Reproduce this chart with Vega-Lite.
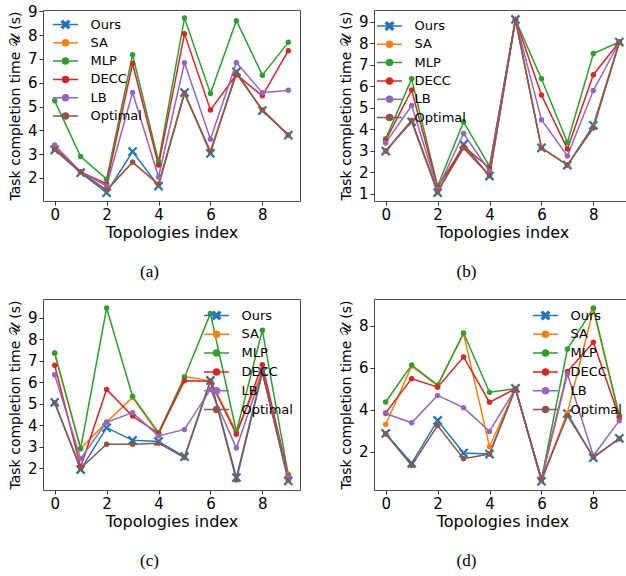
{
  "$schema": "https://vega.github.io/schema/vega-lite/v6.json",
  "padding": {"left": 7, "top": 3, "right": 0, "bottom": 0},
  "background": "white",
  "datasets": {
    "a": [
      {"s":"Ours","x":0,"y":3.18},{"s":"Ours","x":1,"y":2.22},{"s":"Ours","x":2,"y":1.38},{"s":"Ours","x":3,"y":3.11},{"s":"Ours","x":4,"y":1.66},{"s":"Ours","x":5,"y":5.59},{"s":"Ours","x":6,"y":3.03},{"s":"Ours","x":7,"y":6.46},{"s":"Ours","x":8,"y":4.83},{"s":"Ours","x":9,"y":3.8},
      {"s":"SA","x":0,"y":3.21},{"s":"SA","x":1,"y":2.25},{"s":"SA","x":2,"y":1.48},{"s":"SA","x":3,"y":2.66},{"s":"SA","x":4,"y":1.73},{"s":"SA","x":5,"y":5.55},{"s":"SA","x":6,"y":3.11},{"s":"SA","x":7,"y":6.39},{"s":"SA","x":8,"y":4.86},{"s":"SA","x":9,"y":3.8},
      {"s":"MLP","x":0,"y":5.24},{"s":"MLP","x":1,"y":2.9},{"s":"MLP","x":2,"y":1.95},{"s":"MLP","x":3,"y":7.18},{"s":"MLP","x":4,"y":2.69},{"s":"MLP","x":5,"y":8.72},{"s":"MLP","x":6,"y":5.55},{"s":"MLP","x":7,"y":8.61},{"s":"MLP","x":8,"y":6.32},{"s":"MLP","x":9,"y":7.7},
      {"s":"DECC","x":0,"y":3.27},{"s":"DECC","x":1,"y":2.25},{"s":"DECC","x":2,"y":1.76},{"s":"DECC","x":3,"y":6.81},{"s":"DECC","x":4,"y":2.54},{"s":"DECC","x":5,"y":8.06},{"s":"DECC","x":6,"y":4.86},{"s":"DECC","x":7,"y":6.34},{"s":"DECC","x":8,"y":5.45},{"s":"DECC","x":9,"y":7.35},
      {"s":"LB","x":0,"y":3.38},{"s":"LB","x":1,"y":2.26},{"s":"LB","x":2,"y":1.66},{"s":"LB","x":3,"y":5.59},{"s":"LB","x":4,"y":2.04},{"s":"LB","x":5,"y":6.84},{"s":"LB","x":6,"y":3.63},{"s":"LB","x":7,"y":6.85},{"s":"LB","x":8,"y":5.58},{"s":"LB","x":9,"y":5.69},
      {"s":"Optimal","x":0,"y":3.21},{"s":"Optimal","x":1,"y":2.25},{"s":"Optimal","x":2,"y":1.48},{"s":"Optimal","x":3,"y":2.66},{"s":"Optimal","x":4,"y":1.73},{"s":"Optimal","x":5,"y":5.55},{"s":"Optimal","x":6,"y":3.11},{"s":"Optimal","x":7,"y":6.39},{"s":"Optimal","x":8,"y":4.86},{"s":"Optimal","x":9,"y":3.8}
    ],
    "b": [
      {"s":"Ours","x":0,"y":2.98},{"s":"Ours","x":1,"y":4.34},{"s":"Ours","x":2,"y":1.05},{"s":"Ours","x":3,"y":3.29},{"s":"Ours","x":4,"y":1.82},{"s":"Ours","x":5,"y":9.1},{"s":"Ours","x":6,"y":3.13},{"s":"Ours","x":7,"y":2.33},{"s":"Ours","x":8,"y":4.18},{"s":"Ours","x":9,"y":8.05},
      {"s":"SA","x":0,"y":2.98},{"s":"SA","x":1,"y":4.4},{"s":"SA","x":2,"y":1.1},{"s":"SA","x":3,"y":3.13},{"s":"SA","x":4,"y":1.85},{"s":"SA","x":5,"y":9.08},{"s":"SA","x":6,"y":3.13},{"s":"SA","x":7,"y":2.33},{"s":"SA","x":8,"y":4.06},{"s":"SA","x":9,"y":8.03},
      {"s":"MLP","x":0,"y":3.55},{"s":"MLP","x":1,"y":6.34},{"s":"MLP","x":2,"y":1.35},{"s":"MLP","x":3,"y":4.34},{"s":"MLP","x":4,"y":2.27},{"s":"MLP","x":5,"y":9.1},{"s":"MLP","x":6,"y":6.34},{"s":"MLP","x":7,"y":3.38},{"s":"MLP","x":8,"y":7.52},{"s":"MLP","x":9,"y":8.05},
      {"s":"DECC","x":0,"y":3.47},{"s":"DECC","x":1,"y":5.82},{"s":"DECC","x":2,"y":1.3},{"s":"DECC","x":3,"y":3.2},{"s":"DECC","x":4,"y":2.2},{"s":"DECC","x":5,"y":9.1},{"s":"DECC","x":6,"y":5.59},{"s":"DECC","x":7,"y":3.08},{"s":"DECC","x":8,"y":6.53},{"s":"DECC","x":9,"y":8.05},
      {"s":"LB","x":0,"y":3.36},{"s":"LB","x":1,"y":5.1},{"s":"LB","x":2,"y":1.22},{"s":"LB","x":3,"y":3.8},{"s":"LB","x":4,"y":2.05},{"s":"LB","x":5,"y":9.1},{"s":"LB","x":6,"y":4.44},{"s":"LB","x":7,"y":2.75},{"s":"LB","x":8,"y":5.8},{"s":"LB","x":9,"y":8.05},
      {"s":"Optimal","x":0,"y":2.98},{"s":"Optimal","x":1,"y":4.4},{"s":"Optimal","x":2,"y":1.1},{"s":"Optimal","x":3,"y":3.13},{"s":"Optimal","x":4,"y":1.85},{"s":"Optimal","x":5,"y":9.08},{"s":"Optimal","x":6,"y":3.13},{"s":"Optimal","x":7,"y":2.33},{"s":"Optimal","x":8,"y":4.06},{"s":"Optimal","x":9,"y":8.03}
    ],
    "c": [
      {"s":"Ours","x":0,"y":5.07},{"s":"Ours","x":1,"y":1.94},{"s":"Ours","x":2,"y":3.89},{"s":"Ours","x":3,"y":3.3},{"s":"Ours","x":4,"y":3.25},{"s":"Ours","x":5,"y":2.54},{"s":"Ours","x":6,"y":6.09},{"s":"Ours","x":7,"y":1.57},{"s":"Ours","x":8,"y":6.49},{"s":"Ours","x":9,"y":1.41},
      {"s":"SA","x":0,"y":7.35},{"s":"SA","x":1,"y":2.92},{"s":"SA","x":2,"y":4.15},{"s":"SA","x":3,"y":5.3},{"s":"SA","x":4,"y":3.6},{"s":"SA","x":5,"y":6.27},{"s":"SA","x":6,"y":6.07},{"s":"SA","x":7,"y":3.7},{"s":"SA","x":8,"y":6.5},{"s":"SA","x":9,"y":1.72},
      {"s":"MLP","x":0,"y":7.37},{"s":"MLP","x":1,"y":2.91},{"s":"MLP","x":2,"y":9.46},{"s":"MLP","x":3,"y":5.35},{"s":"MLP","x":4,"y":3.66},{"s":"MLP","x":5,"y":6.24},{"s":"MLP","x":6,"y":9.2},{"s":"MLP","x":7,"y":3.7},{"s":"MLP","x":8,"y":8.43},{"s":"MLP","x":9,"y":1.68},
      {"s":"DECC","x":0,"y":6.8},{"s":"DECC","x":1,"y":2.06},{"s":"DECC","x":2,"y":5.67},{"s":"DECC","x":3,"y":4.43},{"s":"DECC","x":4,"y":3.62},{"s":"DECC","x":5,"y":6.07},{"s":"DECC","x":6,"y":6.05},{"s":"DECC","x":7,"y":3.58},{"s":"DECC","x":8,"y":6.82},{"s":"DECC","x":9,"y":1.65},
      {"s":"LB","x":0,"y":6.35},{"s":"LB","x":1,"y":2.45},{"s":"LB","x":2,"y":4.14},{"s":"LB","x":3,"y":4.59},{"s":"LB","x":4,"y":3.51},{"s":"LB","x":5,"y":3.81},{"s":"LB","x":6,"y":5.67},{"s":"LB","x":7,"y":2.94},{"s":"LB","x":8,"y":6.5},{"s":"LB","x":9,"y":1.62},
      {"s":"Optimal","x":0,"y":5.04},{"s":"Optimal","x":1,"y":2.0},{"s":"Optimal","x":2,"y":3.12},{"s":"Optimal","x":3,"y":3.12},{"s":"Optimal","x":4,"y":3.17},{"s":"Optimal","x":5,"y":2.5},{"s":"Optimal","x":6,"y":6.05},{"s":"Optimal","x":7,"y":1.46},{"s":"Optimal","x":8,"y":6.45},{"s":"Optimal","x":9,"y":1.45}
    ],
    "d": [
      {"s":"Ours","x":0,"y":2.87},{"s":"Ours","x":1,"y":1.45},{"s":"Ours","x":2,"y":3.49},{"s":"Ours","x":3,"y":1.94},{"s":"Ours","x":4,"y":1.89},{"s":"Ours","x":5,"y":5.02},{"s":"Ours","x":6,"y":0.6},{"s":"Ours","x":7,"y":3.82},{"s":"Ours","x":8,"y":1.72},{"s":"Ours","x":9,"y":2.64},
      {"s":"SA","x":0,"y":3.3},{"s":"SA","x":1,"y":6.08},{"s":"SA","x":2,"y":5.15},{"s":"SA","x":3,"y":7.62},{"s":"SA","x":4,"y":2.24},{"s":"SA","x":5,"y":5.0},{"s":"SA","x":6,"y":0.68},{"s":"SA","x":7,"y":3.85},{"s":"SA","x":8,"y":8.78},{"s":"SA","x":9,"y":3.65},
      {"s":"MLP","x":0,"y":4.37},{"s":"MLP","x":1,"y":6.13},{"s":"MLP","x":2,"y":5.17},{"s":"MLP","x":3,"y":7.65},{"s":"MLP","x":4,"y":4.83},{"s":"MLP","x":5,"y":5.0},{"s":"MLP","x":6,"y":0.68},{"s":"MLP","x":7,"y":6.89},{"s":"MLP","x":8,"y":8.84},{"s":"MLP","x":9,"y":3.72},
      {"s":"DECC","x":0,"y":3.85},{"s":"DECC","x":1,"y":5.48},{"s":"DECC","x":2,"y":5.07},{"s":"DECC","x":3,"y":6.51},{"s":"DECC","x":4,"y":4.36},{"s":"DECC","x":5,"y":5.0},{"s":"DECC","x":6,"y":0.68},{"s":"DECC","x":7,"y":5.82},{"s":"DECC","x":8,"y":7.21},{"s":"DECC","x":9,"y":3.63},
      {"s":"LB","x":0,"y":3.82},{"s":"LB","x":1,"y":3.38},{"s":"LB","x":2,"y":4.68},{"s":"LB","x":3,"y":4.1},{"s":"LB","x":4,"y":2.97},{"s":"LB","x":5,"y":5.0},{"s":"LB","x":6,"y":0.68},{"s":"LB","x":7,"y":5.7},{"s":"LB","x":8,"y":1.81},{"s":"LB","x":9,"y":3.48},
      {"s":"Optimal","x":0,"y":2.84},{"s":"Optimal","x":1,"y":1.35},{"s":"Optimal","x":2,"y":3.25},{"s":"Optimal","x":3,"y":1.67},{"s":"Optimal","x":4,"y":1.89},{"s":"Optimal","x":5,"y":5.0},{"s":"Optimal","x":6,"y":0.68},{"s":"Optimal","x":7,"y":3.72},{"s":"Optimal","x":8,"y":1.75},{"s":"Optimal","x":9,"y":2.62}
    ]
  },
  "columns": 2,
  "spacing": {"column": 37, "row": 17},
  "resolve": {"scale": {"color": "independent", "x": "independent", "y": "independent"}},
  "concat": [
    {
      "width": 257, "height": 191,
      "data": {"name": "a"},
      "title": {"text": "(a)", "dx": -22},
      "encoding": {
        "x": {"field": "x", "type": "quantitative", "scale": {"domain": [-0.45, 9.45], "nice": false, "zero": false}, "axis": {"values": [0,2,4,6,8], "title": "Topologies index"}},
        "y": {"field": "y", "type": "quantitative", "scale": {"domain": [1.03, 9.06], "nice": false, "zero": false}, "axis": {"values": [2,3,4,5,6,7,8,9], "title": "Task completion time 𝒰 (s)"}},
        "color": {"field": "s", "type": "nominal", "scale": {"domain": ["Ours","SA","MLP","DECC","LB","Optimal"], "range": ["#1f77b4","#ff7f0e","#2ca02c","#d62728","#9467bd","#8c564b"]},
          "legend": {"orient": "none", "legendX": 16, "legendY": 8, "title": null, "padding": 0, "symbolSize": 100, "labelOffset": 18.5, "rowPadding": 4.3, "labelFontSize": 13, "labelFont": "DejaVu Sans", "labelColor": "#000", "symbolOpacity": 1,
            "encode": {"symbols": {"update": {
              "shape": {"signal": "datum.value === 'Ours' ? 'M-2.5,0L2.5,0M0,0.27L0.53,0.8L0.8,0.53L0.27,0L0.8,-0.53L0.53,-0.8L0,-0.27L-0.53,-0.8L-0.8,-0.53L-0.27,0L-0.8,0.53L-0.53,0.8Z' : 'M-2.5,0L2.5,0M0.6,0A0.6,0.6,0,1,1,-0.6,0A0.6,0.6,0,1,1,0.6,0Z'"},
              "fill": {"signal": "{'Ours':'#1f77b4','SA':'#ff7f0e','MLP':'#2ca02c','DECC':'#d62728','LB':'#9467bd','Optimal':'#8c564b'}[datum.value]"},
              "stroke": {"signal": "{'Ours':'#1f77b4','SA':'#ff7f0e','MLP':'#2ca02c','DECC':'#d62728','LB':'#9467bd','Optimal':'#8c564b'}[datum.value]"},
              "strokeWidth": {"value": 1.5}, "opacity": {"value": 1}, "fillOpacity": {"value": 1}, "strokeOpacity": {"value": 1}}}}}}
      },
      "layer": [
        {"transform": [{"filter": "datum.s === 'Ours'"}], "mark": {"type": "line", "strokeWidth": 1.5}},
        {"transform": [{"filter": "datum.s === 'Ours'"}], "mark": {"type": "point", "filled": true, "opacity": 1, "size": 95, "shape": "M0,0.33L0.67,1L1,0.67L0.33,0L1,-0.67L0.67,-1L0,-0.33L-0.67,-1L-1,-0.67L-0.33,0L-1,0.67L-0.67,1Z"}},
        {"transform": [{"filter": "datum.s !== 'Ours'"}], "mark": {"type": "line", "strokeWidth": 1.5}},
        {"transform": [{"filter": "datum.s !== 'Ours'"}], "mark": {"type": "circle", "opacity": 1, "size": 30}}
      ]
    },
    {
      "width": 257, "height": 191,
      "data": {"name": "b"},
      "title": {"text": "(b)", "dx": -36},
      "encoding": {
        "x": {"field": "x", "type": "quantitative", "scale": {"domain": [-0.45, 9.45], "nice": false, "zero": false}, "axis": {"values": [0,2,4,6,8], "title": "Topologies index"}},
        "y": {"field": "y", "type": "quantitative", "scale": {"domain": [0.66, 9.54], "nice": false, "zero": false}, "axis": {"values": [1,2,3,4,5,6,7,8,9], "title": "Task completion time 𝒰 (s)"}},
        "color": {"field": "s", "type": "nominal", "scale": {"domain": ["Ours","SA","MLP","DECC","LB","Optimal"], "range": ["#1f77b4","#ff7f0e","#2ca02c","#d62728","#9467bd","#8c564b"]},
          "legend": {"orient": "none", "legendX": 9, "legendY": 9.5, "title": null, "padding": 0, "symbolSize": 100, "labelOffset": 18.5, "rowPadding": 4.3, "labelFontSize": 13, "labelFont": "DejaVu Sans", "labelColor": "#000", "symbolOpacity": 1,
            "encode": {"symbols": {"update": {
              "shape": {"signal": "datum.value === 'Ours' ? 'M-2.5,0L2.5,0M0,0.27L0.53,0.8L0.8,0.53L0.27,0L0.8,-0.53L0.53,-0.8L0,-0.27L-0.53,-0.8L-0.8,-0.53L-0.27,0L-0.8,0.53L-0.53,0.8Z' : 'M-2.5,0L2.5,0M0.6,0A0.6,0.6,0,1,1,-0.6,0A0.6,0.6,0,1,1,0.6,0Z'"},
              "fill": {"signal": "{'Ours':'#1f77b4','SA':'#ff7f0e','MLP':'#2ca02c','DECC':'#d62728','LB':'#9467bd','Optimal':'#8c564b'}[datum.value]"},
              "stroke": {"signal": "{'Ours':'#1f77b4','SA':'#ff7f0e','MLP':'#2ca02c','DECC':'#d62728','LB':'#9467bd','Optimal':'#8c564b'}[datum.value]"},
              "strokeWidth": {"value": 1.5}, "opacity": {"value": 1}, "fillOpacity": {"value": 1}, "strokeOpacity": {"value": 1}}}}}}
      },
      "layer": [
        {"transform": [{"filter": "datum.s === 'Ours'"}], "mark": {"type": "line", "strokeWidth": 1.5}},
        {"transform": [{"filter": "datum.s === 'Ours'"}], "mark": {"type": "point", "filled": true, "opacity": 1, "size": 95, "shape": "M0,0.33L0.67,1L1,0.67L0.33,0L1,-0.67L0.67,-1L0,-0.33L-0.67,-1L-1,-0.67L-0.33,0L-1,0.67L-0.67,1Z"}},
        {"transform": [{"filter": "datum.s !== 'Ours'"}], "mark": {"type": "line", "strokeWidth": 1.5}},
        {"transform": [{"filter": "datum.s !== 'Ours'"}], "mark": {"type": "circle", "opacity": 1, "size": 30}}
      ]
    },
    {
      "width": 257, "height": 191,
      "data": {"name": "c"},
      "title": {"text": "(c)", "dx": -22},
      "encoding": {
        "x": {"field": "x", "type": "quantitative", "scale": {"domain": [-0.45, 9.45], "nice": false, "zero": false}, "axis": {"values": [0,2,4,6,8], "title": "Topologies index"}},
        "y": {"field": "y", "type": "quantitative", "scale": {"domain": [0.99, 9.88], "nice": false, "zero": false}, "axis": {"values": [2,3,4,5,6,7,8,9], "title": "Task completion time 𝒰 (s)"}},
        "color": {"field": "s", "type": "nominal", "scale": {"domain": ["Ours","SA","MLP","DECC","LB","Optimal"], "range": ["#1f77b4","#ff7f0e","#2ca02c","#d62728","#9467bd","#8c564b"]},
          "legend": {"orient": "none", "legendX": 167, "legendY": 10, "title": null, "padding": 0, "symbolSize": 100, "labelOffset": 18.5, "rowPadding": 4.8, "labelFontSize": 13, "labelFont": "DejaVu Sans", "labelColor": "#000", "symbolOpacity": 1,
            "encode": {"symbols": {"update": {
              "shape": {"signal": "datum.value === 'Ours' ? 'M-2.5,0L2.5,0M0,0.27L0.53,0.8L0.8,0.53L0.27,0L0.8,-0.53L0.53,-0.8L0,-0.27L-0.53,-0.8L-0.8,-0.53L-0.27,0L-0.8,0.53L-0.53,0.8Z' : 'M-2.5,0L2.5,0M0.6,0A0.6,0.6,0,1,1,-0.6,0A0.6,0.6,0,1,1,0.6,0Z'"},
              "fill": {"signal": "{'Ours':'#1f77b4','SA':'#ff7f0e','MLP':'#2ca02c','DECC':'#d62728','LB':'#9467bd','Optimal':'#8c564b'}[datum.value]"},
              "stroke": {"signal": "{'Ours':'#1f77b4','SA':'#ff7f0e','MLP':'#2ca02c','DECC':'#d62728','LB':'#9467bd','Optimal':'#8c564b'}[datum.value]"},
              "strokeWidth": {"value": 1.5}, "opacity": {"value": 1}, "fillOpacity": {"value": 1}, "strokeOpacity": {"value": 1}}}}}}
      },
      "layer": [
        {"transform": [{"filter": "datum.s === 'Ours'"}], "mark": {"type": "line", "strokeWidth": 1.5}},
        {"transform": [{"filter": "datum.s === 'Ours'"}], "mark": {"type": "point", "filled": true, "opacity": 1, "size": 95, "shape": "M0,0.33L0.67,1L1,0.67L0.33,0L1,-0.67L0.67,-1L0,-0.33L-0.67,-1L-1,-0.67L-0.33,0L-1,0.67L-0.67,1Z"}},
        {"transform": [{"filter": "datum.s !== 'Ours'"}], "mark": {"type": "line", "strokeWidth": 1.5}},
        {"transform": [{"filter": "datum.s !== 'Ours'"}], "mark": {"type": "circle", "opacity": 1, "size": 30}}
      ]
    },
    {
      "width": 257, "height": 191,
      "data": {"name": "d"},
      "title": {"text": "(d)", "dx": -36},
      "encoding": {
        "x": {"field": "x", "type": "quantitative", "scale": {"domain": [-0.45, 9.45], "nice": false, "zero": false}, "axis": {"values": [0,2,4,6,8], "title": "Topologies index"}},
        "y": {"field": "y", "type": "quantitative", "scale": {"domain": [0.18, 9.27], "nice": false, "zero": false}, "axis": {"values": [2,4,6,8], "title": "Task completion time 𝒰 (s)"}},
        "color": {"field": "s", "type": "nominal", "scale": {"domain": ["Ours","SA","MLP","DECC","LB","Optimal"], "range": ["#1f77b4","#ff7f0e","#2ca02c","#d62728","#9467bd","#8c564b"]},
          "legend": {"orient": "none", "legendX": 165, "legendY": 10, "title": null, "padding": 0, "symbolSize": 100, "labelOffset": 18.5, "rowPadding": 4.8, "labelFontSize": 13, "labelFont": "DejaVu Sans", "labelColor": "#000", "symbolOpacity": 1,
            "encode": {"symbols": {"update": {
              "shape": {"signal": "datum.value === 'Ours' ? 'M-2.5,0L2.5,0M0,0.27L0.53,0.8L0.8,0.53L0.27,0L0.8,-0.53L0.53,-0.8L0,-0.27L-0.53,-0.8L-0.8,-0.53L-0.27,0L-0.8,0.53L-0.53,0.8Z' : 'M-2.5,0L2.5,0M0.6,0A0.6,0.6,0,1,1,-0.6,0A0.6,0.6,0,1,1,0.6,0Z'"},
              "fill": {"signal": "{'Ours':'#1f77b4','SA':'#ff7f0e','MLP':'#2ca02c','DECC':'#d62728','LB':'#9467bd','Optimal':'#8c564b'}[datum.value]"},
              "stroke": {"signal": "{'Ours':'#1f77b4','SA':'#ff7f0e','MLP':'#2ca02c','DECC':'#d62728','LB':'#9467bd','Optimal':'#8c564b'}[datum.value]"},
              "strokeWidth": {"value": 1.5}, "opacity": {"value": 1}, "fillOpacity": {"value": 1}, "strokeOpacity": {"value": 1}}}}}}
      },
      "layer": [
        {"transform": [{"filter": "datum.s === 'Ours'"}], "mark": {"type": "line", "strokeWidth": 1.5}},
        {"transform": [{"filter": "datum.s === 'Ours'"}], "mark": {"type": "point", "filled": true, "opacity": 1, "size": 95, "shape": "M0,0.33L0.67,1L1,0.67L0.33,0L1,-0.67L0.67,-1L0,-0.33L-0.67,-1L-1,-0.67L-0.33,0L-1,0.67L-0.67,1Z"}},
        {"transform": [{"filter": "datum.s !== 'Ours'"}], "mark": {"type": "line", "strokeWidth": 1.5}},
        {"transform": [{"filter": "datum.s !== 'Ours'"}], "mark": {"type": "circle", "opacity": 1, "size": 30}}
      ]
    }
  ],
  "config": {
    "view": {"stroke": "#4d4d4d", "strokeWidth": 1},
    "axis": {"domain": false, "grid": false, "ticks": true, "tickSize": 4, "tickColor": "#333", "labelFont": "DejaVu Sans", "labelFontSize": 15, "labelColor": "#000", "labelPadding": 2, "titleFont": "DejaVu Sans", "titleFontWeight": "normal", "titleColor": "#000"},
    "axisX": {"titleFontSize": 16, "titlePadding": 2},
    "axisY": {"titleFontSize": 14, "titlePadding": 5},
    "title": {"orient": "bottom", "font": "Liberation Serif", "fontSize": 17, "fontWeight": "normal", "color": "#000", "anchor": "middle", "frame": "group", "offset": 24}
  }
}
